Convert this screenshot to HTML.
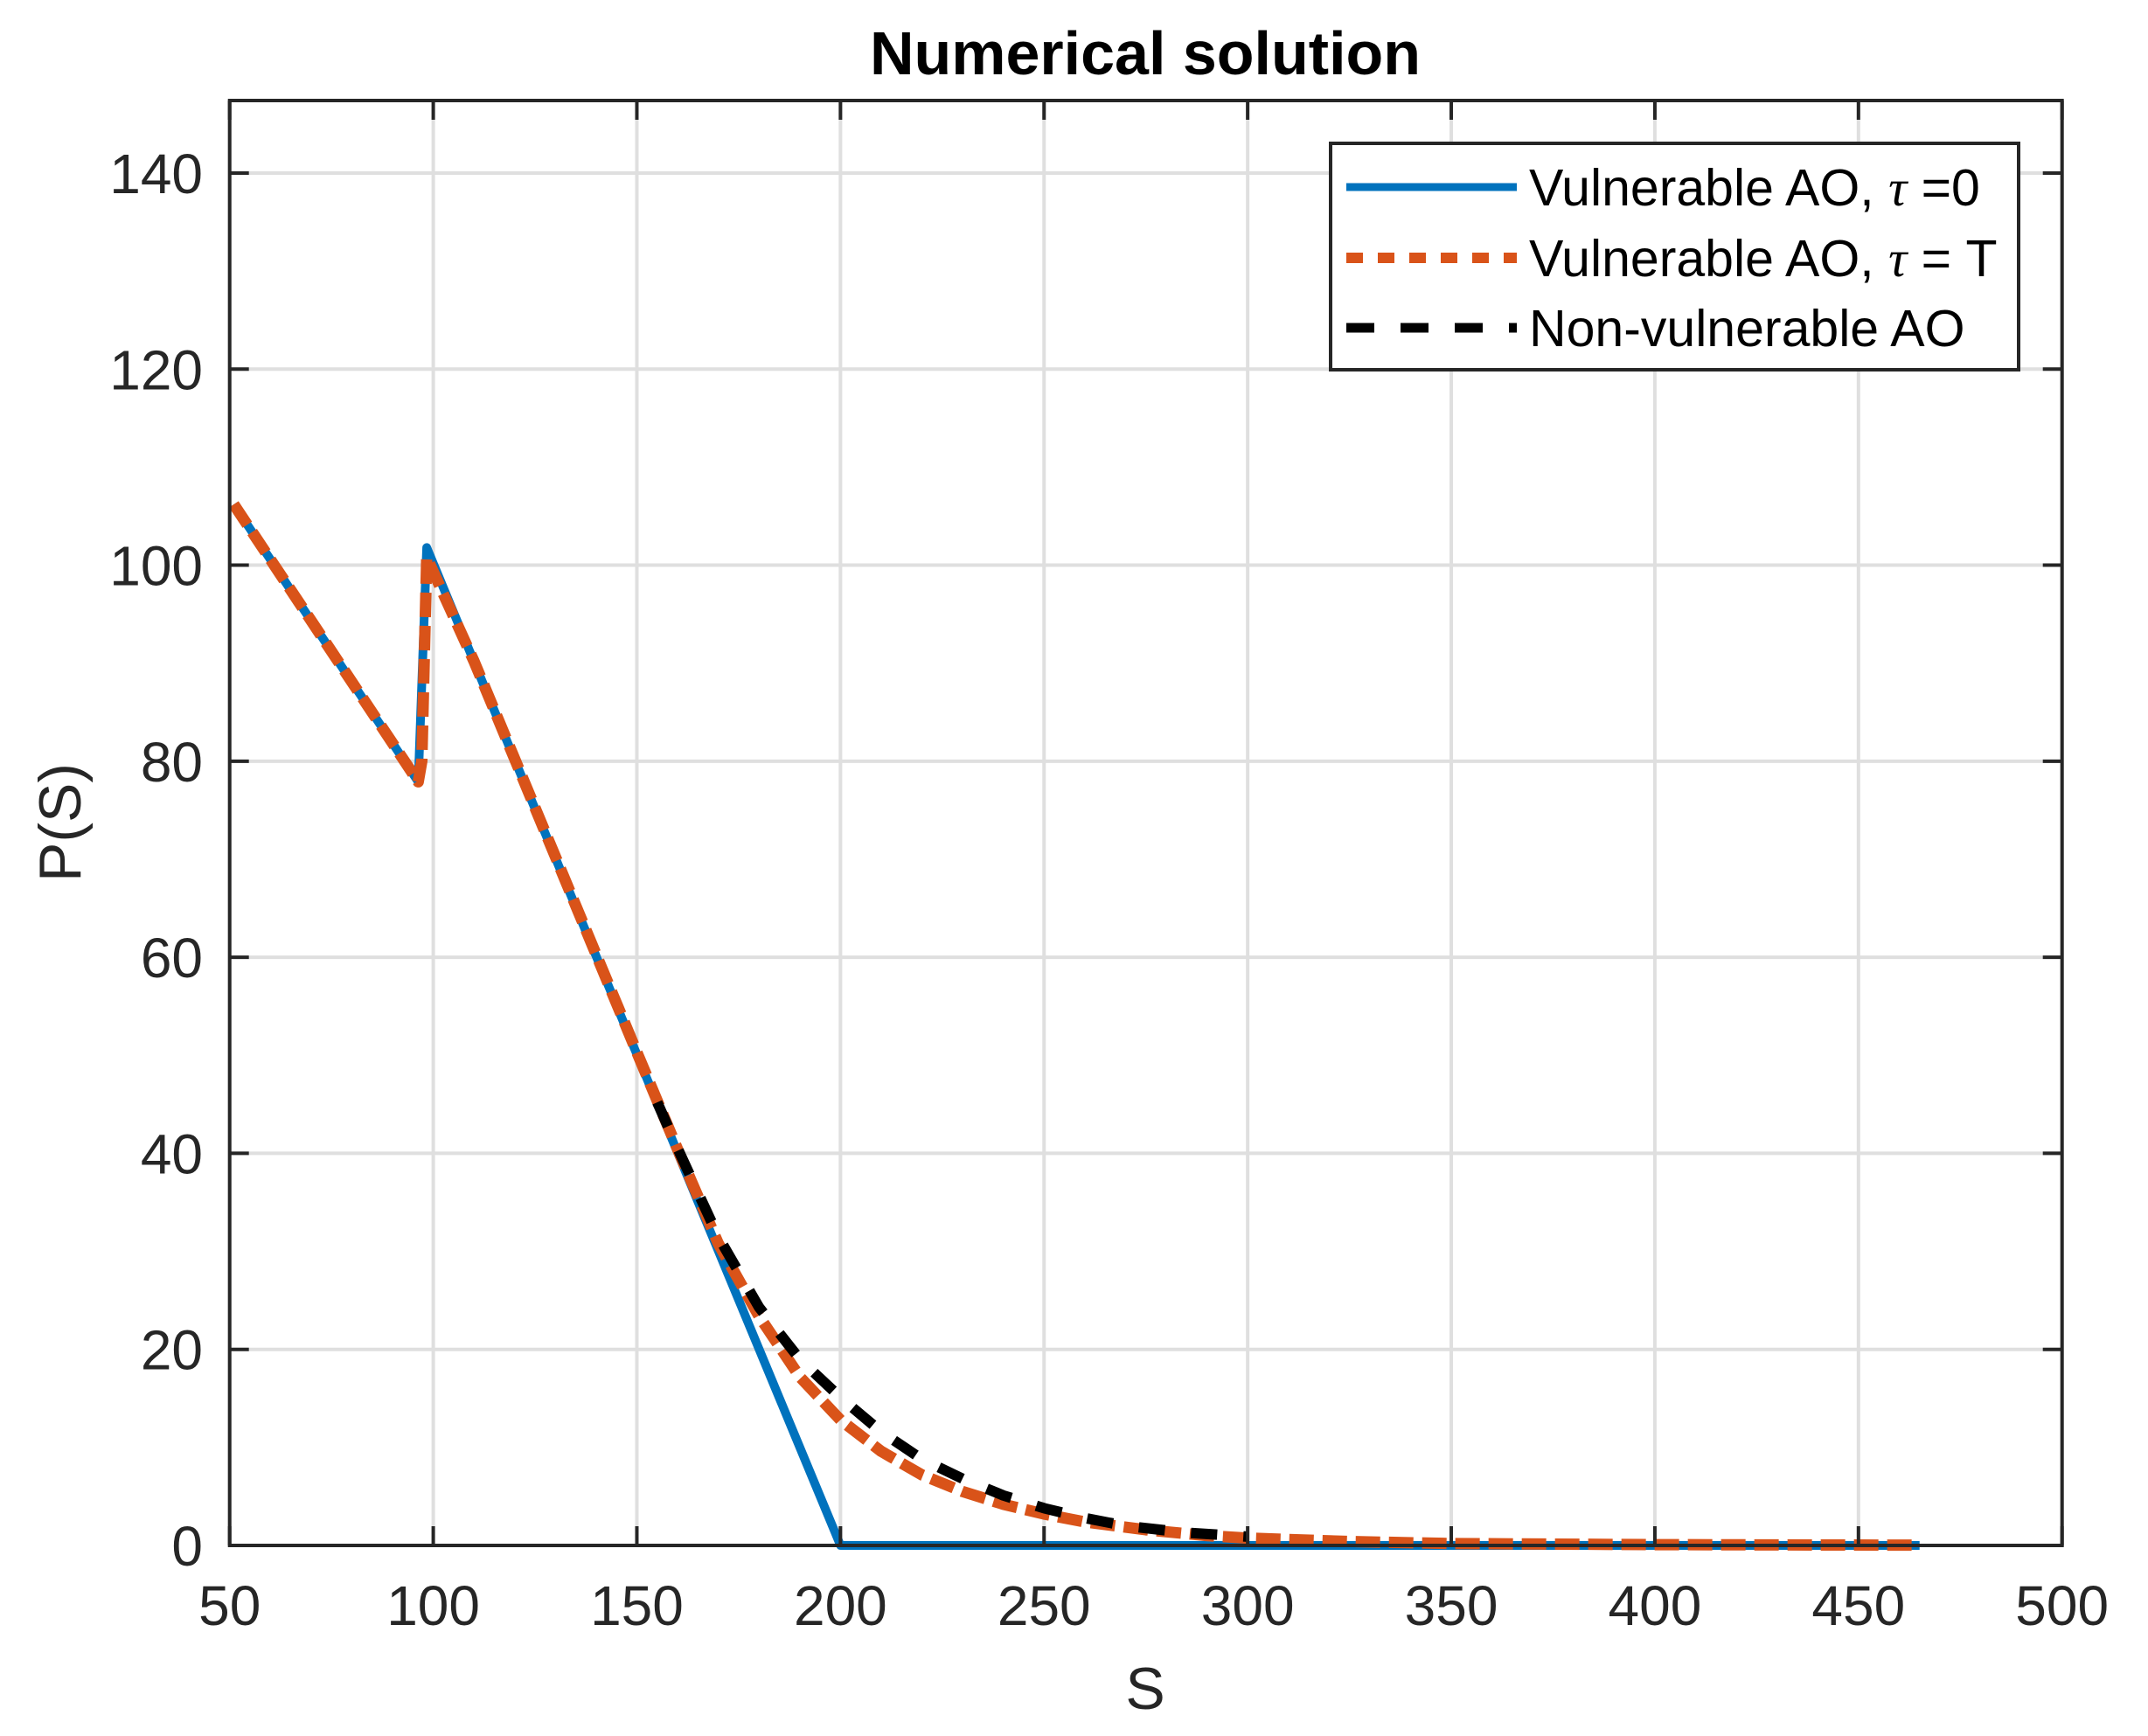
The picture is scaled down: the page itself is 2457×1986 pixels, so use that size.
<!DOCTYPE html>
<html><head><meta charset="utf-8"><style>
html,body{margin:0;padding:0;background:#fff;}
svg{display:block;font-family:"Liberation Sans",Arial,sans-serif;}
</style></head><body>
<svg id="chart" width="2457" height="1986" viewBox="0 0 2457 1986" xmlns="http://www.w3.org/2000/svg">
<rect width="2457" height="1986" fill="#fff"/>
<g id="grid"></g>
<g id="series"></g>
<g id="axes"></g>
<text x="1310" y="85" text-anchor="middle" font-size="70" font-weight="bold" fill="#000">Numerical solution</text>
<text x="1310" y="1955" text-anchor="middle" font-size="68" fill="#262626">S</text>
<text x="0" y="0" transform="translate(92,941) rotate(-90)" text-anchor="middle" font-size="68" fill="#262626">P(S)</text>
<g>
<rect x="1522" y="164" width="787" height="259" fill="#fff" stroke="#262626" stroke-width="4"/>
<line x1="1540" y1="214" x2="1735" y2="214" stroke="#0072BD" stroke-width="9"/>
<text x="1749" y="235" font-size="59" fill="#000">Vulnerable AO, <tspan font-family="Liberation Serif,serif" font-style="italic">τ</tspan> =0</text>
<line x1="1540" y1="295" x2="1735" y2="295" stroke="#D95319" stroke-width="12" stroke-dasharray="19,17"/>
<text x="1749" y="316" font-size="59" fill="#000">Vulnerable AO, <tspan font-family="Liberation Serif,serif" font-style="italic">τ</tspan> = T</text>
<line x1="1540" y1="375" x2="1735" y2="375" stroke="#000" stroke-width="11" stroke-dasharray="32,30"/>
<text x="1749" y="396" font-size="59" fill="#000">Non-vulnerable AO</text>
</g>
</svg>
<script>
const xTicks = [50,100,150,200,250,300,350,400,450,500];
const yTicks = [0,20,40,60,80,100,120,140];
const blueS = [51,96.3,98.4,200,465];
const blueP = [106.2,77.9,101.8,0,0];
const orangeS = [51,96.3,97.2,98.4,110,150,160,170,180,190,200,210,220,230,240,250,260,275,290,300,325,350,400,465];
const orangeP = [106.2,77.9,80,100.8,90.2,50.3,40.4,30.8,23.4,17.2,12.8,9.6,7.2,5.5,4.2,3.2,2.4,1.6,1.0,0.75,0.4,0.2,0.08,0.03];
const blackS = [155,160,170,180,190,200,210,220,230,240,250,260,270,285,300];
const blackP = [45.2,40.5,31.5,24.3,19,15.1,11.6,8.8,6.8,5.1,3.8,2.8,2.0,1.3,0.9];

const L=262.7,R=2358.7,T=115,B=1768,xMin=50,xMax=500,yMin=0,yMax=147.4;
const xs=v=>L+(v-xMin)/(xMax-xMin)*(R-L);
const ys=v=>B-(v-yMin)/(yMax-yMin)*(B-T);
const NS='http://www.w3.org/2000/svg';
function mk(tag,attrs,parent){const e=document.createElementNS(NS,tag);for(const k in attrs)e.setAttribute(k,attrs[k]);parent.appendChild(e);return e;}
const grid=document.getElementById('grid'),axes=document.getElementById('axes'),series=document.getElementById('series');
xTicks.forEach(v=>{
  const x=xs(v);
  const g=mk('line',{x1:x,y1:T,x2:x,y2:B,stroke:'#dfdfdf','stroke-width':4},grid);
  
  
  const t1=mk('line',{x1:x,y1:B,x2:x,y2:B-22,stroke:'#262626','stroke-width':4},axes);
  
  
  const t2=mk('line',{x1:x,y1:T,x2:x,y2:T+22,stroke:'#262626','stroke-width':4},axes);
  
  
  const lb=mk('text',{x:x,y:1859,'text-anchor':'middle','font-size':64,fill:'#262626'},axes);
  lb.textContent=v;
  
  
});
yTicks.forEach(v=>{
  const y=ys(v);
  const g=mk('line',{x1:L,y1:y,x2:R,y2:y,stroke:'#dfdfdf','stroke-width':4},grid);
  
  
  const t1=mk('line',{x1:L,y1:y,x2:L+22,y2:y,stroke:'#262626','stroke-width':4},axes);
  
  
  const t2=mk('line',{x1:R,y1:y,x2:R-22,y2:y,stroke:'#262626','stroke-width':4},axes);
  
  
  const lb=mk('text',{x:232,y:y+23,'text-anchor':'end','font-size':64,fill:'#262626'},axes);
  lb.textContent=v;
  
  
});
const box=mk('rect',{x:L,y:T,width:R-L,height:B-T,fill:'none',stroke:'#262626','stroke-width':4},axes);


function pts(S,P){return S.map((s,i)=>xs(s).toFixed(1)+','+ys(P[i]).toFixed(1)).join(' ');}
const b=mk('polyline',{points:pts(blueS,blueP),fill:'none',stroke:'#0072BD','stroke-width':10,'stroke-linejoin':'round'},series);


const o=mk('polyline',{points:pts(orangeS,orangeP),fill:'none',stroke:'#D95319','stroke-width':13,'stroke-dasharray':'28,10','stroke-linejoin':'round'},series);


const k=mk('polyline',{points:pts(blackS,blackP),fill:'none',stroke:'#000','stroke-width':12,'stroke-dasharray':'30,30','stroke-linejoin':'round'},series);


</script>
</body></html>
